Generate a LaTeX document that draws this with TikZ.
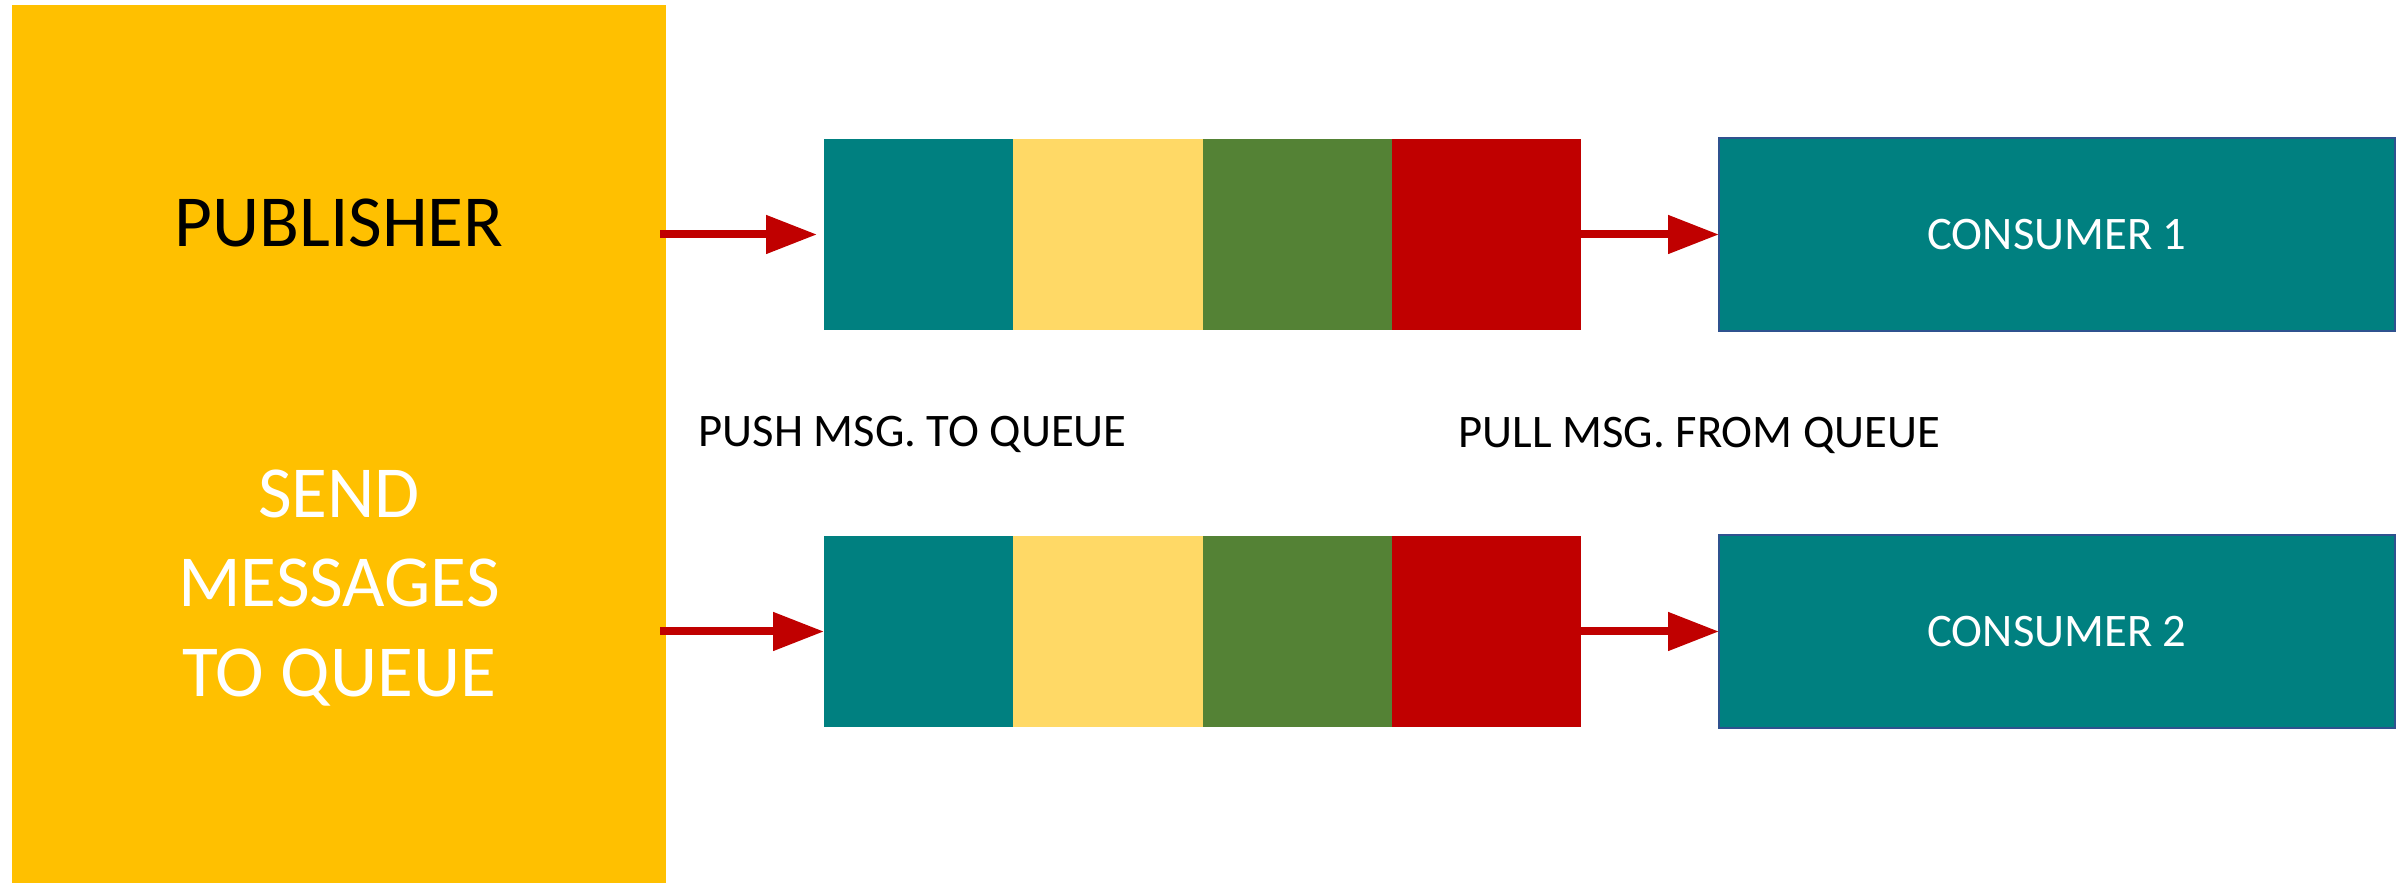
\documentclass[tikz,border=0pt]{standalone}
\usepackage{fontspec}
\setmainfont{Carlito}
\usetikzlibrary{arrows.meta}

\definecolor{pubyellow}{HTML}{FFC000}
\definecolor{qteal}{HTML}{008080}
\definecolor{qyellow}{HTML}{FFD966}
\definecolor{qgreen}{HTML}{548235}
\definecolor{qred}{HTML}{C00000}
\definecolor{arrowred}{HTML}{C00000}
\definecolor{cborder}{HTML}{2F528F}

\tikzset{
  cell/.style={fill=#1, draw=none, minimum width=189.3*0.3pt, minimum height=191*0.3pt,
    inner sep=0pt, outer sep=0pt, anchor=west},
  consumer/.style={fill=qteal, draw=cborder, line width=0.5pt, minimum width=676*0.3pt,
    minimum height=193*0.3pt, inner sep=0pt, outer sep=0pt, text=white,
    font=\fontsize{14}{17}\selectfont},
  publisher/.style={fill=pubyellow, draw=none, minimum width=654*0.3pt,
    minimum height=880*0.3pt, inner sep=0pt, outer sep=0pt},
  label/.style={inner sep=0pt, font=\fontsize{14}{17}\selectfont, anchor=base west},
  conn/.style={draw=arrowred, line width=2.4pt,
    -{Triangle[length=15.3pt,width=11.1pt]}},
}

\begin{document}
\begin{tikzpicture}[x=0.3pt, y=-0.3pt]
  \useasboundingbox[fill=white] (0,0) rectangle (2400,883);

  % publisher block
  \node[publisher] (pub) at (339,445) {};
  \node[inner sep=0pt, anchor=base, font=\fontsize{22}{26.85}\selectfont] (pubtxt)
    at (339,247) {PUBLISHER};
  \node[inner sep=0pt, anchor=north, align=center, text=white,
        font=\fontsize{22}{26.85}\selectfont] (sendtxt)
    at (339,469) {SEND\\MESSAGES\\TO QUEUE};

  % queue 1
  \node[cell=qteal]   (q1a) at (824,234.5) {};
  \node[cell=qyellow] (q1b) at (q1a.east) {};
  \node[cell=qgreen]  (q1c) at (q1b.east) {};
  \node[cell=qred]    (q1d) at (q1c.east) {};

  % queue 2
  \node[cell=qteal]   (q2a) at (824,631.5) {};
  \node[cell=qyellow] (q2b) at (q2a.east) {};
  \node[cell=qgreen]  (q2c) at (q2b.east) {};
  \node[cell=qred]    (q2d) at (q2c.east) {};

  % consumers
  \node[consumer] (c1) at (2057,234.5) {CONSUMER 1};
  \node[consumer] (c2) at (2057,631.5) {CONSUMER 2};

  % captions
  \node[label] (push) at (698,447) {PUSH MSG. TO QUEUE};
  \node[label] (pull) at (1458,448) {PULL MSG. FROM QUEUE};

  % connectors
  \coordinate (s1) at (660,234.5);
  \coordinate (s2) at (660,631.5);
  \draw[conn, shorten >=2.1pt] (s1) -- (q1a.west);
  \draw[conn] (s2) -- (q2a.west);
  \draw[conn] (q1d.east) -- (c1.west);
  \draw[conn] (q2d.east) -- (c2.west);
\end{tikzpicture}
\end{document}
